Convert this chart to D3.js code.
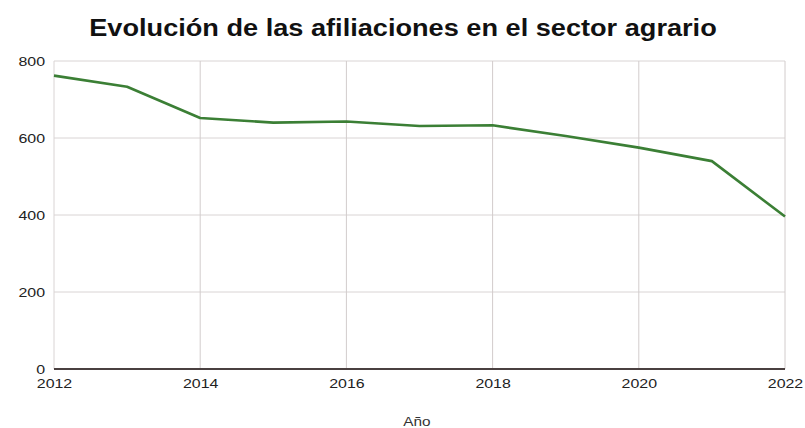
<!DOCTYPE html>
<html>
<head>
<meta charset="utf-8">
<script src="https://cdn.jsdelivr.net/npm/d3@7"></script>
<style>
  html, body { margin: 0; padding: 0; background: #fff; }
  svg { display: block; }
  text { font-family: "Liberation Sans", Arial, sans-serif; }
</style>
</head>
<body>
<script>
const years = [2012, 2013, 2014, 2015, 2016, 2017, 2018, 2019, 2020, 2021, 2022];
const afiliaciones = [762, 733, 652, 640, 643, 631, 633, 605, 575, 540, 396];
const xTicks = [2012, 2014, 2016, 2018, 2020, 2022];
const yTicks = [0, 200, 400, 600, 800];
const title = "Evolución de las afiliaciones en el sector agrario";
const xLabel = "Año";

const W = 805, H = 428;
const margin = { left: 54, right: 20, top: 61, bottom: 59 };
const STRETCH = 1.18;

const svg = d3.select("body").append("svg").attr("width", W).attr("height", H);

const x = d3.scaleLinear().domain([2012, 2022]).range([margin.left, W - margin.right]);
const y = d3.scaleLinear().domain([0, 800]).range([H - margin.bottom, margin.top]);

// gridlines
svg.append("g").selectAll("line.h").data(yTicks.filter(d => d > 0)).join("line")
  .attr("x1", margin.left).attr("x2", W - margin.right)
  .attr("y1", d => y(d)).attr("y2", d => y(d))
  .attr("stroke", "#d9d4d4").attr("stroke-width", 1);
svg.append("g").selectAll("line.v").data(xTicks.filter(d => d > 2012)).join("line")
  .attr("x1", d => x(d)).attr("x2", d => x(d))
  .attr("y1", margin.top).attr("y2", H - margin.bottom)
  .attr("stroke", "#d2cccc").attr("stroke-width", 1);
svg.append("line").attr("x1", margin.left).attr("x2", margin.left)
  .attr("y1", margin.top).attr("y2", H - margin.bottom)
  .attr("stroke", "#d9d4d4");

// y axis labels
const yAxis = d3.axisLeft(y).tickValues(yTicks).tickSize(0).tickPadding(9);
const gy = svg.append("g").attr("transform", `translate(${margin.left},0)`).call(yAxis);
gy.select(".domain").remove();
gy.selectAll("text").attr("font-size", 13.5).attr("fill", "#222").attr("font-family", "Liberation Sans, Arial, sans-serif");

// x axis
const xAxis = d3.axisBottom(x).tickValues(xTicks).tickFormat(d3.format("d")).tickSize(0).tickPadding(9);
const gx = svg.append("g").attr("transform", `translate(0,${y(0)})`).call(xAxis);
gx.select(".domain").remove();
gx.selectAll("text").attr("font-size", 13.5).attr("fill", "#222").attr("font-family", "Liberation Sans, Arial, sans-serif");
svg.append("line").attr("x1", margin.left).attr("x2", W - margin.right)
  .attr("y1", y(0)).attr("y2", y(0)).attr("stroke", "#4a4040").attr("stroke-width", 2);

// line
const line = d3.line().x((d, i) => x(years[i])).y(d => y(d));
svg.append("path").datum(afiliaciones)
  .attr("d", line).attr("fill", "none")
  .attr("stroke", "#3b7f35").attr("stroke-width", 2.6).attr("stroke-linejoin", "round");

// title
svg.append("text").attr("x", 403).attr("y", 36).attr("text-anchor", "middle")
  .attr("font-size", 23).attr("font-weight", "bold").attr("fill", "#111").text(title);

// x label
svg.append("text").attr("x", 417).attr("y", 426).attr("text-anchor", "middle")
  .attr("font-size", 13).attr("fill", "#333").text(xLabel);

// horizontal stretch of all texts, as in the reference
svg.selectAll("text").each(function () {
  const len = this.getComputedTextLength();
  d3.select(this).attr("textLength", len * STRETCH).attr("lengthAdjust", "spacingAndGlyphs");
});
</script>
</body>
</html>
